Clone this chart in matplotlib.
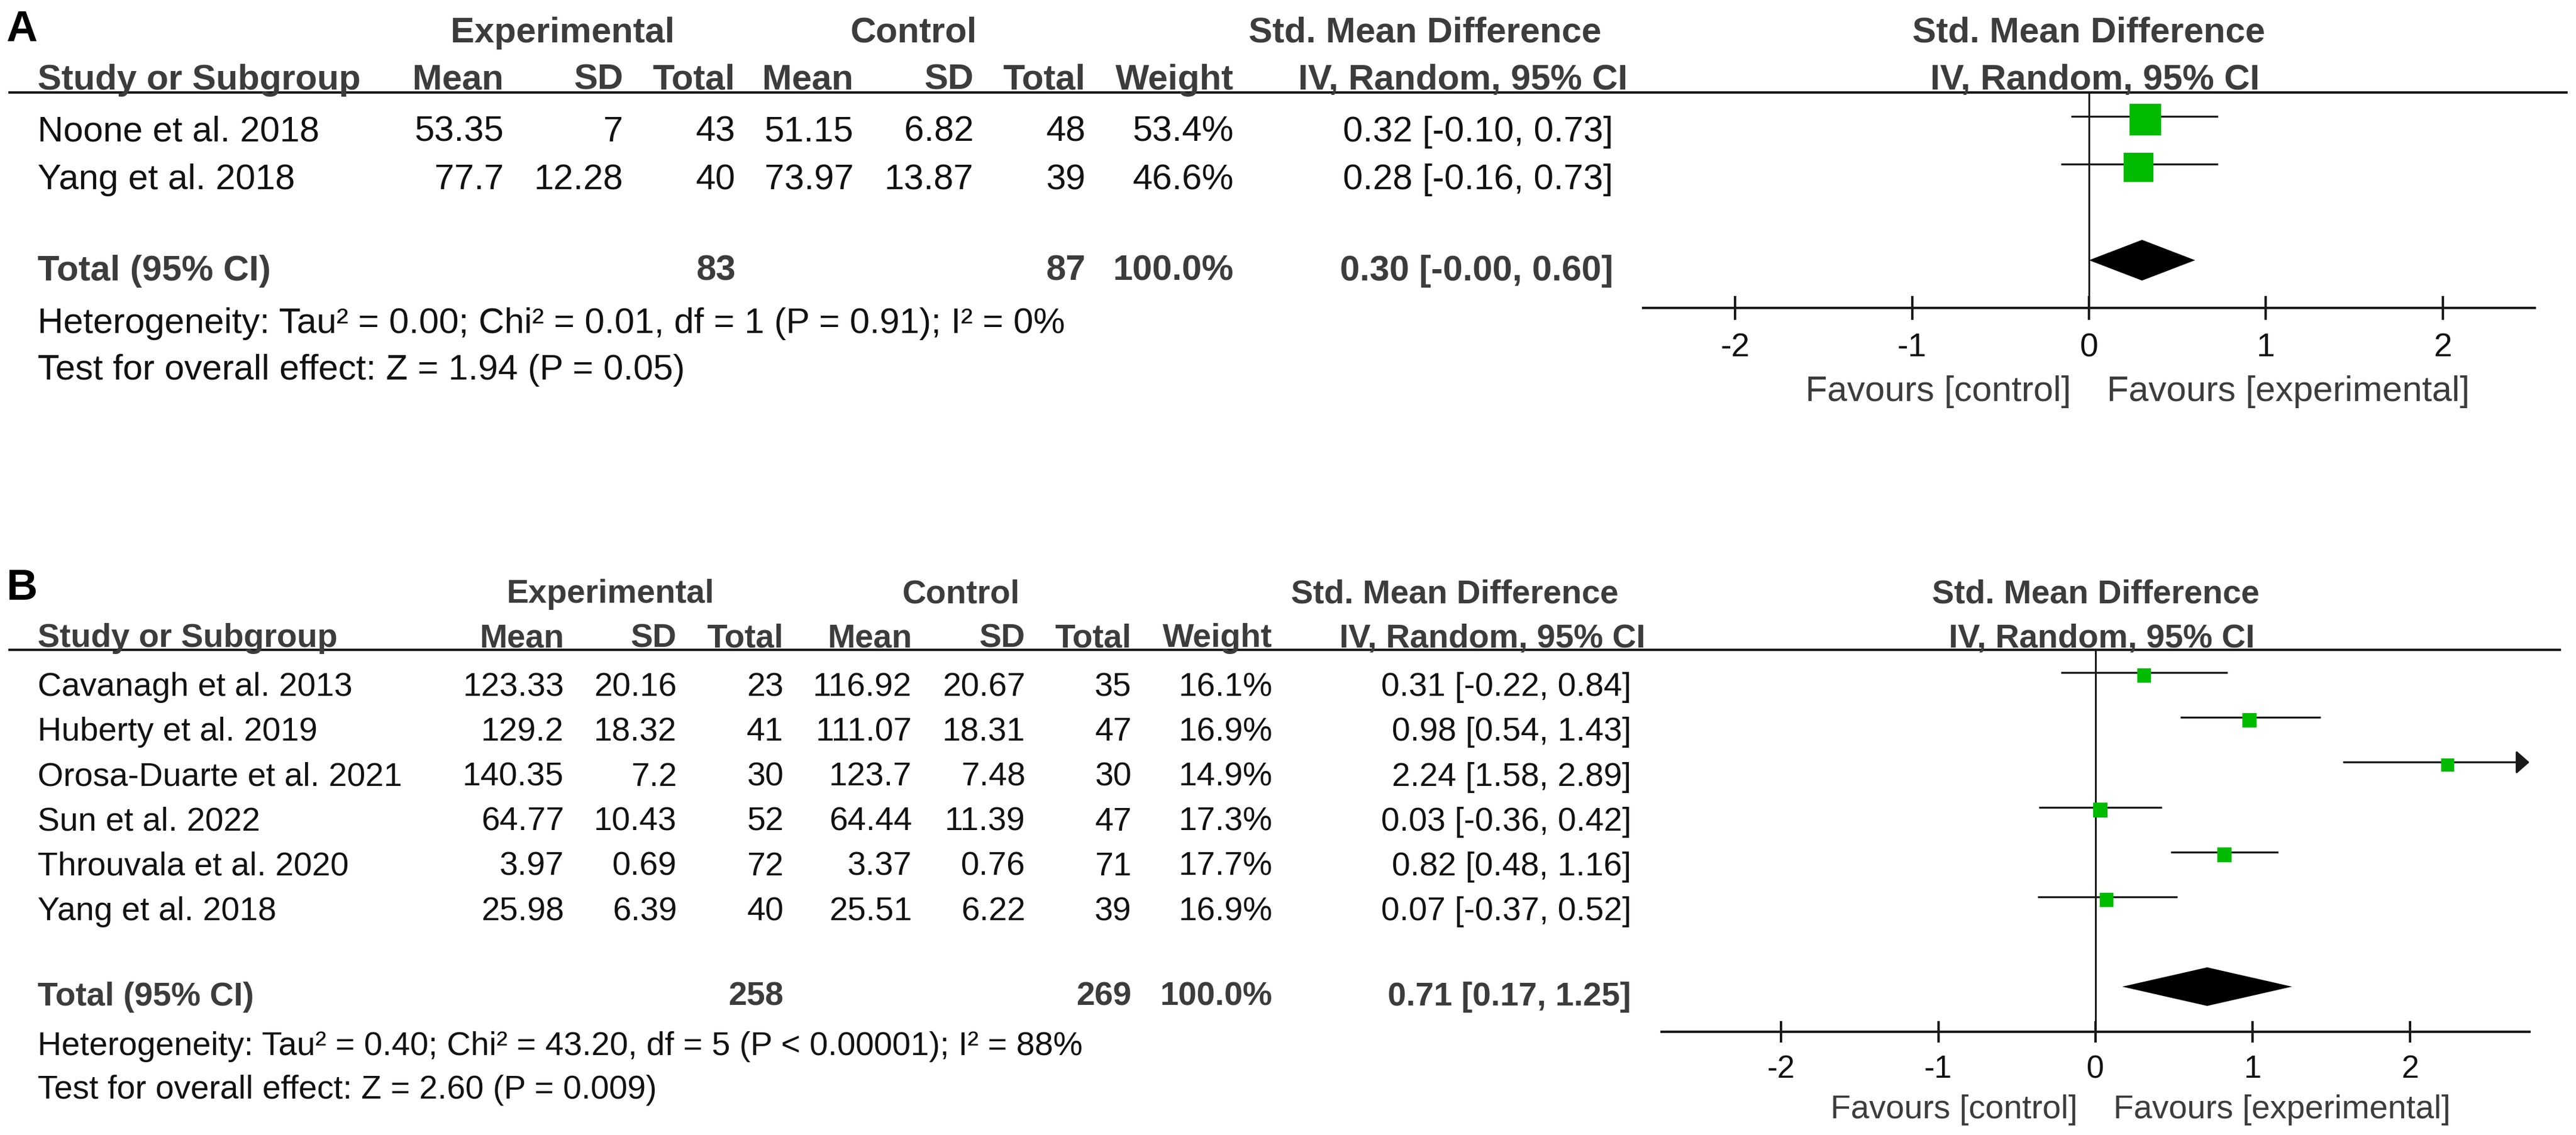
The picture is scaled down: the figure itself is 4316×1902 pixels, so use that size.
import matplotlib
matplotlib.use("Agg")
import matplotlib.pyplot as plt

plt.rcParams['font.family'] = ['Liberation Sans', 'DejaVu Sans']

W, H, DPI = 4316, 1902, 100
PX = 72.0 / DPI  # points per pixel

GREEN = '#00bb00'
INK = '#111111'
GREY = '#3c3c3c'

# ---------------- panel A data
a_study = ["Noone et al. 2018", "Yang et al. 2018"]
a_exp_mean = [53.35, 77.7]
a_exp_sd = [7, 12.28]
a_exp_n = [43, 40]
a_ctl_mean = [51.15, 73.97]
a_ctl_sd = [6.82, 13.87]
a_ctl_n = [48, 39]
a_weight = [53.4, 46.6]
a_smd = [0.32, 0.28]
a_lo = [-0.10, -0.16]
a_hi = [0.73, 0.73]
a_total = [0.30, -0.00, 0.60]   # est, lo, hi  (lo printed as -0.00)
a_total_weight = 100.0
a_het = "Heterogeneity: Tau² = 0.00; Chi² = 0.01, df = 1 (P = 0.91); I² = 0%"
a_test = "Test for overall effect: Z = 1.94 (P = 0.05)"

# ---------------- panel B data
b_study = ["Cavanagh et al. 2013", "Huberty et al. 2019", "Orosa-Duarte et al. 2021",
           "Sun et al. 2022", "Throuvala et al. 2020", "Yang et al. 2018"]
b_exp_mean = [123.33, 129.2, 140.35, 64.77, 3.97, 25.98]
b_exp_sd = [20.16, 18.32, 7.2, 10.43, 0.69, 6.39]
b_exp_n = [23, 41, 30, 52, 72, 40]
b_ctl_mean = [116.92, 111.07, 123.7, 64.44, 3.37, 25.51]
b_ctl_sd = [20.67, 18.31, 7.48, 11.39, 0.76, 6.22]
b_ctl_n = [35, 47, 30, 47, 71, 39]
b_weight = [16.1, 16.9, 14.9, 17.3, 17.7, 16.9]
b_smd = [0.31, 0.98, 2.24, 0.03, 0.82, 0.07]
b_lo = [-0.22, 0.54, 1.58, -0.36, 0.48, -0.37]
b_hi = [0.84, 1.43, 2.89, 0.42, 1.16, 0.52]
b_total = [0.71, 0.17, 1.25]
b_total_weight = 100.0
b_het = "Heterogeneity: Tau² = 0.40; Chi² = 43.20, df = 5 (P < 0.00001); I² = 88%"
b_test = "Test for overall effect: Z = 2.60 (P = 0.009)"

ticks = [-2, -1, 0, 1, 2]
col_heads = ["Mean", "SD", "Total", "Mean", "SD", "Total", "Weight"]

# layout (pixels)
lay_a = dict(label="A", label_y=69, line_y=155, step=80.3, line_x1=4302, fs=43, tfs=40,
             cols=[844, 1044, 1232, 1430, 1631, 1819, 2067], ci_right=2703,
             exp_c=943, ctl_c=1531, smd_c=2388, fx0=2753, fx1=4247, xlim=2.52,
             tick_len=40, sq_k=7.25, dia_h=0.85)
lay_b = dict(label="B", label_y=1005, line_y=1089.4, step=75.2, line_x1=4291, fs=40, tfs=38,
             cols=[945, 1134, 1313, 1528, 1718, 1896, 2132], ci_right=2733,
             exp_c=1022, ctl_c=1610, smd_c=2437, fx0=2784, fx1=4238, xlim=2.76,
             tick_len=36, sq_k=5.8, dia_h=0.86)

fig = plt.figure(figsize=(W / DPI, H / DPI), dpi=DPI)
bg = fig.add_axes([0, 0, 1, 1])
bg.set_xlim(0, W)
bg.set_ylim(H, 0)
bg.axis('off')


def num(v):
    return f"{v:g}"


def ci(e, l, h):
    return f"{e:.2f} [{l:.2f}, {h:.2f}]"


def panel(L, study, em, esd, en, cm, csd, cn, wt, smd, lo, hi, tot, tot_w, het, test):
    fs = L['fs']
    n = len(study)
    step = L['step']
    ly = L['line_y']
    axis_y = ly + step * (n + 2.5)

    def kw(bold=False, ha='left', size=None):
        return dict(fontsize=size or fs, fontweight='bold' if bold else 'normal',
                    color=GREY if bold else INK, ha=ha, va='baseline')

    # panel letter and headers
    bg.text(10, L['label_y'], L['label'], fontsize=52, fontweight='bold', color='black',
            ha='left', va='baseline')
    gy = ly - 1.05 * step
    bg.text(L['exp_c'], gy, "Experimental", **kw(True, 'center'))
    bg.text(L['ctl_c'], gy, "Control", **kw(True, 'center'))
    bg.text(L['smd_c'], gy, "Std. Mean Difference", **kw(True, 'center'))
    hy = ly - 5
    bg.text(63, hy, "Study or Subgroup", **kw(True))
    for x, s in zip(L['cols'], col_heads):
        bg.text(x, hy, s, **kw(True, 'right'))
    bg.text(L['ci_right'] + 24, hy, "IV, Random, 95% CI", **kw(True, 'right'))
    bg.hlines(ly, 14, L['line_x1'], color='#1a1a1a', lw=4 * PX)

    # study rows
    for i in range(n):
        y = ly + step * (0.5 + i) + 0.52 * step
        bg.text(63, y, study[i], **kw())
        vals = [num(em[i]), num(esd[i]), str(en[i]), num(cm[i]), num(csd[i]), str(cn[i]),
                f"{wt[i]:.1f}%"]
        for x, s in zip(L['cols'], vals):
            bg.text(x, y, s, **kw(ha='right'))
        bg.text(L['ci_right'], y, ci(smd[i], lo[i], hi[i]), **kw(ha='right'))

    # total row
    ty = ly + step * (n + 1.5) + 0.42 * step
    bg.text(63, ty, "Total (95% CI)", **kw(True))
    bg.text(L['cols'][2], ty, str(sum(en)), **kw(True, 'right'))
    bg.text(L['cols'][5], ty, str(sum(cn)), **kw(True, 'right'))
    bg.text(L['cols'][6], ty, f"{tot_w:.1f}%", **kw(True, 'right'))
    bg.text(L['ci_right'], ty, ci(*tot), **kw(True, 'right'))
    bg.text(63, ty + 1.1 * step, het, **kw())
    bg.text(63, ty + 2.07 * step, test, **kw())

    # forest plot
    ax = fig.add_axes([L['fx0'] / W, 1 - axis_y / H, (L['fx1'] - L['fx0']) / W,
                       (axis_y - ly) / H])
    ax.patch.set_alpha(0)
    xm = L['xlim']
    ax.set_xlim(-xm, xm)
    ax.set_ylim(n + 2, -0.5)
    for s in ['top', 'left', 'right']:
        ax.spines[s].set_visible(False)
    ax.spines['bottom'].set_linewidth(4 * PX)
    ax.spines['bottom'].set_color('#1a1a1a')
    ax.set_yticks([])
    ax.set_xticks(ticks)
    ax.set_xticklabels([str(t) for t in ticks])
    ax.tick_params(axis='x', direction='inout', length=L['tick_len'] * PX, width=4 * PX,
                   color='#1a1a1a', pad=15, labelsize=L['tfs'], labelcolor=INK)
    ax.axvline(0, color='#1a1a1a', lw=3 * PX, zorder=1)

    rows = list(range(n))
    for i in rows:
        if hi[i] > xm:
            ax.annotate('', xy=(xm, i), xytext=(lo[i], i),
                        arrowprops=dict(arrowstyle='-|>,head_length=0.68,head_width=0.6',
                                        mutation_scale=20, lw=3.3 * PX, color='#1a1a1a',
                                        shrinkA=0, shrinkB=0), annotation_clip=False)
        else:
            ax.hlines(i, lo[i], hi[i], color='#1a1a1a', lw=3.3 * PX, zorder=2)
    sizes = [(L['sq_k'] * w ** 0.5 * PX) ** 2 for w in wt]
    ax.scatter(smd, [r + 0.065 for r in rows], s=sizes, marker='s', color=GREEN,
               linewidths=0, zorder=3)

    e, l, h = tot
    yt = n + 1
    d = L['dia_h'] / 2
    ax.fill([l, e, h, e], [yt, yt - d, yt, yt + d], color='black', lw=0, zorder=3)

    # forest headers and favours labels (offsets in pixels from x = 0)
    ax.annotate("Std. Mean Difference", xy=(0, -0.5), xycoords='data',
                xytext=(0, ly - gy), textcoords='offset pixels', annotation_clip=False,
                **kw(True, 'center'))
    ax.annotate("IV, Random, 95% CI", xy=(0, -0.5), xycoords='data',
                xytext=(10, ly - hy), textcoords='offset pixels', annotation_clip=False,
                **kw(True, 'center'))
    fav_dy = -1.94 * step
    ax.annotate("Favours [control]", xy=(0, n + 2), xycoords='data',
                xytext=(-30, fav_dy), textcoords='offset pixels', annotation_clip=False,
                fontsize=fs, color=GREY, ha='right', va='baseline')
    ax.annotate("Favours [experimental]", xy=(0, n + 2), xycoords='data',
                xytext=(30, fav_dy), textcoords='offset pixels', annotation_clip=False,
                fontsize=fs, color=GREY, ha='left', va='baseline')


panel(lay_a, a_study, a_exp_mean, a_exp_sd, a_exp_n, a_ctl_mean, a_ctl_sd, a_ctl_n,
      a_weight, a_smd, a_lo, a_hi, a_total, a_total_weight, a_het, a_test)
panel(lay_b, b_study, b_exp_mean, b_exp_sd, b_exp_n, b_ctl_mean, b_ctl_sd, b_ctl_n,
      b_weight, b_smd, b_lo, b_hi, b_total, b_total_weight, b_het, b_test)

fig.savefig("out.png", dpi=DPI, facecolor='white')
